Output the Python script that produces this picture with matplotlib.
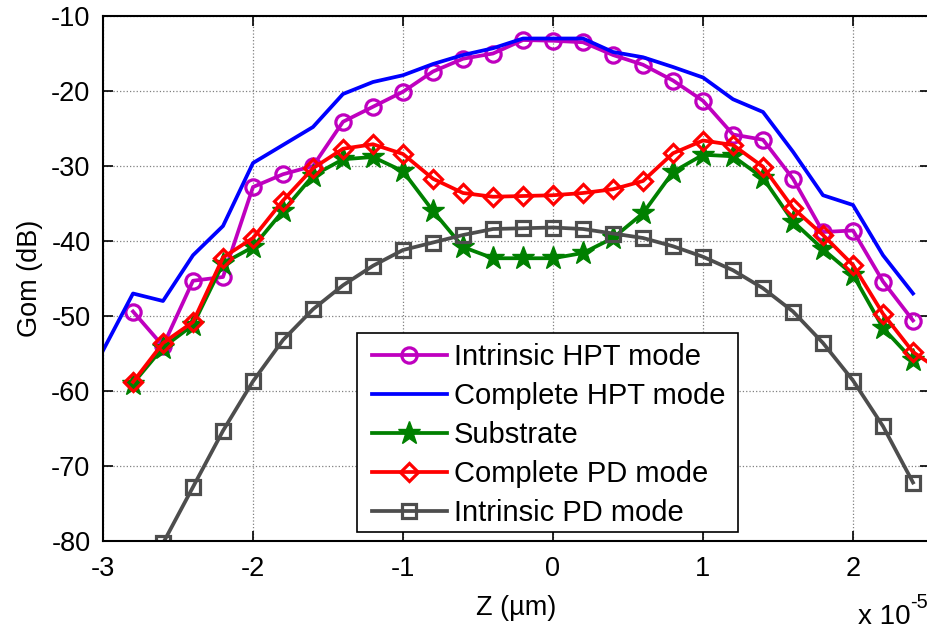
import matplotlib
matplotlib.use("Agg")
import matplotlib.pyplot as plt
from matplotlib.patches import Rectangle

plt.rcParams['font.family'] = ['Liberation Sans', 'DejaVu Sans']

# Z positions (units of 1e-5 m)
z = [-2.8, -2.6, -2.4, -2.2, -2.0, -1.8, -1.6, -1.4, -1.2, -1.0, -0.8, -0.6, -0.4, -0.2,
     0.0, 0.2, 0.4, 0.6, 0.8, 1.0, 1.2, 1.4, 1.6, 1.8, 2.0, 2.2, 2.4]

intrinsic_hpt = [-49.4, -54.0, -45.3, -44.8, -32.8, -31.1, -30.0, -24.1, -22.1, -20.1, -17.4,
                 -15.7, -15.0, -13.2, -13.3, -13.5, -15.2, -16.5, -18.6, -21.3, -25.8, -26.5,
                 -31.7, -38.8, -38.6, -45.4, -50.6]

z_complete_hpt = [-3.0] + z
complete_hpt = [-54.6, -47.0, -48.0, -41.9, -38.0, -29.6, -27.2, -24.8, -20.4, -18.8, -17.9,
                -16.4, -15.2, -14.3, -13.0, -13.0, -13.0, -14.8, -15.5, -16.8, -18.2, -21.1,
                -22.8, -28.1, -33.9, -35.2, -41.9, -47.0]

substrate = [-59.0, -54.2, -51.2, -43.0, -40.8, -36.0, -31.3, -29.1, -28.8, -30.7, -36.0,
             -40.8, -42.3, -42.3, -42.3, -41.6, -39.6, -36.3, -30.8, -28.5, -28.7, -31.6,
             -37.4, -41.1, -44.5, -51.6, -55.9]

z_complete_pd = z + [2.6]
complete_pd = [-58.8, -53.6, -50.8, -42.2, -39.6, -34.6, -30.3, -27.7, -27.1, -28.4, -31.7,
               -33.6, -34.1, -34.0, -33.9, -33.6, -33.1, -32.0, -28.3, -26.6, -27.2, -30.1,
               -35.6, -39.2, -43.2, -49.7, -54.8, -57.5]

z_intrinsic_pd = [-2.8] + z[1:]
intrinsic_pd = [-88.0, -80.3, -72.8, -65.3, -58.7, -53.2, -49.1, -45.9, -43.3, -41.2, -40.2,
                -39.2, -38.4, -38.3, -38.2, -38.4, -39.0, -39.6, -40.7, -42.1, -43.9, -46.3,
                -49.4, -53.6, -58.6, -64.7, -72.2]

labels = ["Intrinsic HPT mode", "Complete HPT mode", "Substrate",
          "Complete PD mode", "Intrinsic PD mode"]
x_ticks = [-3, -2, -1, 0, 1, 2]
y_ticks = [-80, -70, -60, -50, -40, -30, -20, -10]

W, H = 928, 632
fig = plt.figure(figsize=(W / 100, H / 100), dpi=100)
left, right, top, bottom = 103, 930, 16, 541
ax = fig.add_axes([left / W, 1 - bottom / H, (right - left) / W, (bottom - top) / H])

lw = 2.7
ax.plot(z, intrinsic_hpt, color='#BF00BF', lw=lw, marker='o', ms=11,
        mfc='none', mec='#BF00BF', mew=2.3, label=labels[0])
ax.plot(z_complete_hpt, complete_hpt, color='#0000FF', lw=lw, label=labels[1])
ax.plot(z, substrate, color='#008000', lw=lw, marker='*', ms=17,
        mfc='#008000', mec='#008000', label=labels[2])
ax.plot(z_complete_pd, complete_pd, color='#FF0000', lw=lw, marker='D', ms=9,
        mfc='none', mec='#FF0000', mew=2.3, label=labels[3])
ax.plot(z_intrinsic_pd, intrinsic_pd, color='#4D4D4D', lw=lw, marker='s', ms=10,
        mfc='none', mec='#4D4D4D', mew=2.3, label=labels[4])

ax.set_xlim(-3, -3 + (right - left) / 150)
ax.set_ylim(-80, -10)
ax.set_xticks(x_ticks)
ax.set_yticks(y_ticks)
ax.set_xticklabels([str(t) for t in x_ticks])
ax.set_yticklabels([str(t) for t in y_ticks])
ax.grid(True, color='#808080', linestyle=':', linewidth=0.9)
ax.tick_params(direction='in', length=7, width=1.2, labelsize=19.5,
               top=True, right=True, pad=9)
ax.tick_params(axis='x', pad=11)
for s in ax.spines.values():
    s.set_linewidth(1.5)

ax.set_xlabel("Z (µm)", fontsize=19.5, labelpad=9)
ax.set_ylabel("Gom (dB)", fontsize=19.5, labelpad=6)
fig.text(858 / W, 1 - 630 / H, "x 10", fontsize=20, ha='left', va='bottom')
fig.text(910 / W, 1 - 608 / H, "-5", fontsize=14.5, ha='left', va='baseline')

# legend frame drawn as a plain rectangle behind the legend entries
frame = Rectangle((357 / W, 1 - 532 / H), (738 - 357) / W, (532 - 333) / H,
                  transform=fig.transFigure, facecolor='white', edgecolor='black',
                  linewidth=1.2, zorder=4.9, clip_on=False)
ax.add_patch(frame)

fs_leg = 21
leg = ax.legend(loc='upper left',
                bbox_to_anchor=((372 - left) / (right - left), (bottom - 343) / (bottom - top)),
                fontsize=fs_leg, frameon=False, borderpad=0, labelspacing=0.38,
                handlelength=2.57, handletextpad=0.24, borderaxespad=0)
leg.set_zorder(5)

fig.savefig("out.png", dpi=100)
